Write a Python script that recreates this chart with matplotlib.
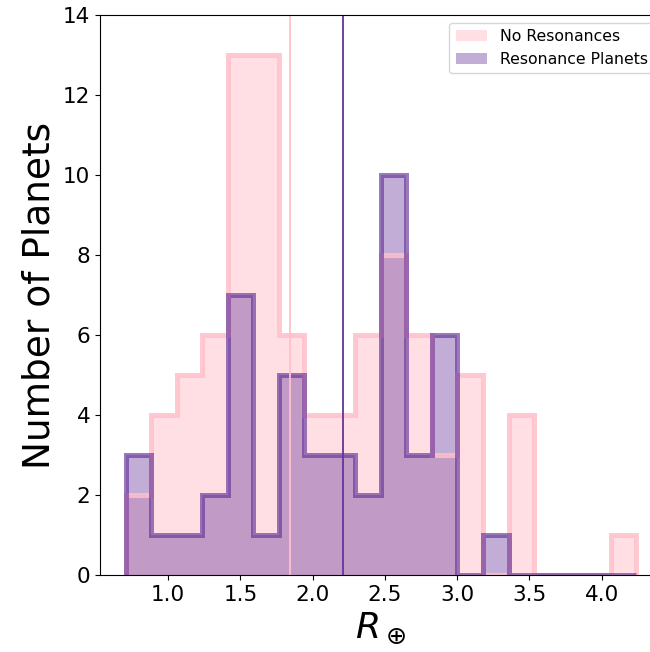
import numpy as np
import matplotlib
matplotlib.use("Agg")
import matplotlib.pyplot as plt

# bin edges shared by both histograms (planet radius, Earth radii)
r_min = 0.705
r_max = 4.239
n_bins = 20

# counts per bin
no_res_counts = [2, 4, 5, 6, 13, 13, 6, 4, 4, 6, 8, 6, 3, 5, 0, 4, 0, 0, 0, 1]
res_counts = [3, 1, 1, 2, 7, 1, 5, 3, 3, 2, 10, 3, 6, 0, 1, 0, 0, 0, 0, 0]

# vertical marker lines (median radius of each sample)
no_res_median = 1.846
res_median = 2.208

labels = ["No Resonances", "Resonance Planets"]
c_no = "pink"
c_res = "rebeccapurple"

edges = np.linspace(r_min, r_max, n_bins + 1)
centers = 0.5 * (edges[:-1] + edges[1:])

fig = plt.figure(figsize=(6.5, 6.52), dpi=100)
ax = fig.add_axes([0.154, 0.118, 0.864, 0.859])

# filled parts
ax.hist(centers, bins=edges, weights=no_res_counts, histtype="stepfilled",
        color=c_no, alpha=0.5, label=labels[0])
ax.hist(centers, bins=edges, weights=res_counts, histtype="stepfilled",
        color=c_res, alpha=0.4, label=labels[1])
# outlines on top
ax.hist(centers, bins=edges, weights=no_res_counts, histtype="step",
        color=c_no, alpha=0.85, lw=3.6)
ax.hist(centers, bins=edges, weights=res_counts, histtype="step",
        color=c_res, alpha=0.65, lw=3.6)

ax.axvline(no_res_median, color=c_no, lw=1.3)
ax.axvline(res_median, color=c_res, lw=1.3)

ax.set_ylim(0, 14)
ax.set_yticks(np.arange(0, 15, 2))
ax.set_xticks(np.arange(1.0, 4.01, 0.5))
ax.tick_params(labelsize=15.5)
ax.set_xlabel(r"$R_\oplus$", fontsize=26)
ax.set_ylabel("Number of Planets", fontsize=27)
ax.legend(loc="upper right", fontsize=11.3)

fig.savefig("out.png", dpi=100)
